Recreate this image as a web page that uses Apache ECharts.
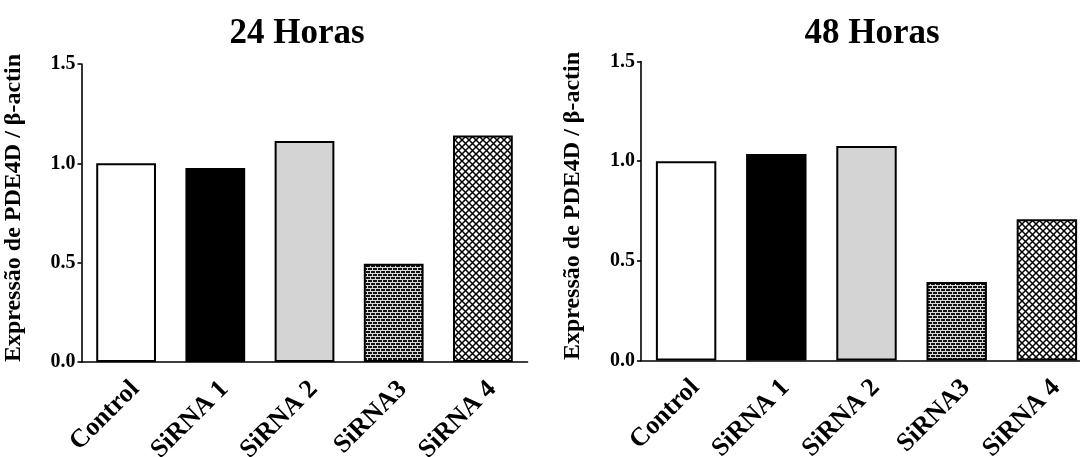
<!DOCTYPE html>
<html>
<head>
<meta charset="utf-8">
<script src="https://cdn.jsdelivr.net/npm/echarts@6/dist/echarts.min.js"></script>
<style>
  html, body { margin: 0; padding: 0; background: #fff; }
  #chart { width: 1080px; height: 457px; }
</style>
</head>
<body>
<div id="chart"></div>
<script>
// Relative PDE4D expression (normalised to beta-actin), per treatment
const categories = ['Control', 'SiRNA 1', 'SiRNA 2', 'SiRNA3', 'SiRNA 4'];
const horas24 = [1.0, 0.976, 1.113, 0.495, 1.14];
const horas48 = [1.0, 1.036, 1.076, 0.394, 0.708];
const panelTitles = ['24 Horas', '48 Horas'];
const yAxisTitle = 'Expressão de PDE4D / β-actin';

const FONT = '"Liberation Serif", "Times New Roman", serif';

// Brick texture: dark bricks with light mortar lines
function brickPattern() {
  const c = document.createElement('canvas');
  c.width = 10; c.height = 6;
  const g = c.getContext('2d');
  g.fillStyle = '#121212';
  g.fillRect(0, 0, 10, 6);
  g.fillStyle = '#d8d8d8';
  g.fillRect(0, 0, 10, 1);
  g.fillRect(0, 3, 10, 1);
  g.fillRect(0, 1, 1, 2);
  g.fillRect(5, 1, 1, 2);
  g.fillRect(2, 4, 1, 2);
  g.fillRect(7, 4, 1, 2);
  return c;
}

// Diamond cross-hatch texture
function hatchPattern() {
  const c = document.createElement('canvas');
  c.width = 7; c.height = 7;
  const g = c.getContext('2d');
  g.fillStyle = '#ffffff';
  g.fillRect(0, 0, 7, 7);
  g.strokeStyle = '#000000';
  g.lineWidth = 1.5;
  g.beginPath();
  g.moveTo(-1, -1); g.lineTo(8, 8);
  g.moveTo(-1, 8); g.lineTo(8, -1);
  g.stroke();
  return c;
}

const fills = [
  '#ffffff',
  '#000000',
  '#d4d4d4',
  { image: brickPattern(), repeat: 'repeat' },
  { image: hatchPattern(), repeat: 'repeat' }
];

function barData(values) {
  return values.map((v, i) => ({
    value: v,
    itemStyle: { color: fills[i], borderColor: '#000', borderWidth: 2 }
  }));
}

// Fixed plot rectangles; labels may run past the canvas edge
const grids = [
  { left: 81.5, top: 64, width: 446, height: 298, outerBoundsMode: 'none', containLabel: false },
  { left: 641, top: 61.5, width: 451, height: 299, outerBoundsMode: 'none', containLabel: false }
];

function xAxis(idx) {
  return {
    type: 'category',
    gridIndex: idx,
    data: categories,
    axisLine: { lineStyle: { color: '#000', width: 1.6 } },
    axisTick: { alignWithLabel: true, length: 5, lineStyle: { color: '#000', width: 1.6 } },
    axisLabel: {
      rotate: 45,
      margin: 14,
      verticalAlign: 'top',
      color: '#000',
      fontFamily: FONT,
      fontWeight: 'bold',
      fontSize: 26
    }
  };
}

function yAxis(idx) {
  return {
    type: 'value',
    gridIndex: idx,
    min: 0,
    max: 1.5,
    interval: 0.5,
    name: yAxisTitle,
    nameLocation: 'middle',
    nameGap: 56,
    nameTextStyle: { color: '#000', fontFamily: FONT, fontWeight: 'bold', fontSize: 24, padding: [0, 0, 0, 10] },
    axisLine: { show: true, lineStyle: { color: '#000', width: 1.6 } },
    axisTick: { show: true, length: 4, lineStyle: { color: '#000', width: 1.6 } },
    splitLine: { show: false },
    axisLabel: {
      margin: 6,
      color: '#000',
      fontFamily: FONT,
      fontWeight: 'bold',
      fontSize: 20,
      formatter: v => v.toFixed(1)
    }
  };
}

const chart = echarts.init(document.getElementById('chart'), null, { renderer: 'canvas' });
chart.setOption({
  animation: false,
  backgroundColor: '#fff',
  graphic: [
    { type: 'text', x: 297, y: 34, style: { text: panelTitles[0], fill: '#000', font: 'bold 35px ' + FONT, textAlign: 'center', textVerticalAlign: 'middle' } },
    { type: 'text', x: 872, y: 34, style: { text: panelTitles[1], fill: '#000', font: 'bold 35px ' + FONT, textAlign: 'center', textVerticalAlign: 'middle' } }
  ],
  grid: grids,
  xAxis: [xAxis(0), xAxis(1)],
  yAxis: [yAxis(0), yAxis(1)],
  series: [
    { type: 'bar', xAxisIndex: 0, yAxisIndex: 0, barWidth: '67%', data: barData(horas24) },
    { type: 'bar', xAxisIndex: 1, yAxisIndex: 1, barWidth: '67%', data: barData(horas48) }
  ]
});
</script>
</body>
</html>
